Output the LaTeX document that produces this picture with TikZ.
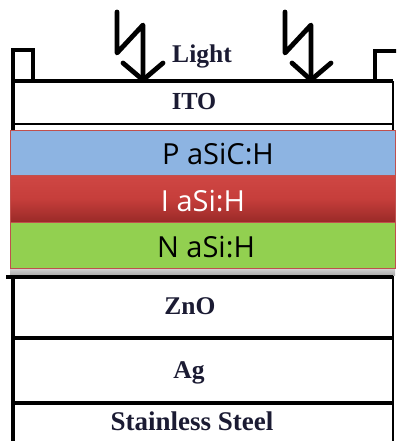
\documentclass[tikz,border=0pt]{standalone}
\usepackage{fontspec}
\setmainfont{Liberation Serif}
\newfontfamily\lblsans{Open Sans}
\definecolor{navyink}{HTML}{1B1B33}
\definecolor{pblue}{HTML}{8DB4E2}
\definecolor{ngreen}{HTML}{92D050}
\definecolor{edgered}{HTML}{C0504D}
\definecolor{ired}{HTML}{C63E3B}
\definecolor{iredtop}{HTML}{CF4744}
\definecolor{ireddark}{HTML}{9A2A28}
\begin{document}
\begin{tikzpicture}[x=1pt,y=-1pt,
  heavy/.style={line width=4.8pt,line join=round,line cap=round},
  outline/.style={line width=4.2pt},
  thinedge/.style={line width=2pt},
  layer/.style={draw=edgered,line width=1pt},
  serlbl/.style={anchor=base,text=navyink,font=\bfseries\fontsize{25.5}{28}\selectfont,inner sep=0pt},
  sanslbl/.style={anchor=base,font=\lblsans\fontsize{29}{33}\selectfont,inner sep=0pt}]
\useasboundingbox (0,0) rectangle (396,441);
\begin{scope}
\clip (0,0) rectangle (396,441);
% frame lines
\draw[thinedge] (393,81) -- (393,441);
\draw[thinedge] (13,124) -- (393,124);
\draw[outline] (13,441) -- (13,81) -- (13,50) -- (33,50) -- (33,81);
\draw[outline] (13,81) -- (393,81);
\draw[outline] (375,81) -- (375,51) -- (402,51);
% layers
\fill[top color=gray!30,bottom color=gray!65] (10,267) rectangle (395,275);
\draw[layer,fill=pblue] (10,130) rectangle (395,175);
\shade[top color=iredtop,bottom color=ireddark,middle color=ired] (10,175) rectangle (395,222);
\draw[edgered,line width=1pt] (10,175) rectangle (395,222);
\draw[layer,fill=ngreen] (10,222) rectangle (395,268);
\draw[outline] (6,277) -- (393,277);
\draw[outline] (13,338) -- (393,338);
\draw[outline] (13,403) -- (393,403);
\end{scope}
% light arrows
\coordinate (la1) at (117,12);
\coordinate (la2) at (117,53);
\coordinate (la3) at (143,25);
\coordinate (latip) at (143,80);
\draw[heavy] (la1) -- (la2) -- (la3) -- (latip);
\draw[heavy] (123,63) -- (latip) -- (163,63);
\coordinate (ra1) at (285,12);
\coordinate (ra2) at (285,53);
\coordinate (ra3) at (311,25);
\coordinate (ratip) at (311,80);
\draw[heavy] (ra1) -- (ra2) -- (ra3) -- (ratip);
\draw[heavy] (292,63) -- (ratip) -- (331,63);
% labels
\node[serlbl] (light) at (202,63) {Light};
\node[serlbl,font=\bfseries\fontsize{24.5}{27}\selectfont] (ito) at (194,110) {ITO};
\node[sanslbl] (p) at (218,164) {P aSiC:H};
\node[sanslbl,text=white] (i) at (203,211) {I aSi:H};
\node[sanslbl] (n) at (206,257) {N aSi:H};
\node[serlbl] (zno) at (190,314) {ZnO};
\node[serlbl] (ag) at (189,378) {Ag};
\node[serlbl,font=\bfseries\fontsize{27}{30}\selectfont] (ss) at (192,430) {Stainless Steel};
\end{tikzpicture}
\end{document}
